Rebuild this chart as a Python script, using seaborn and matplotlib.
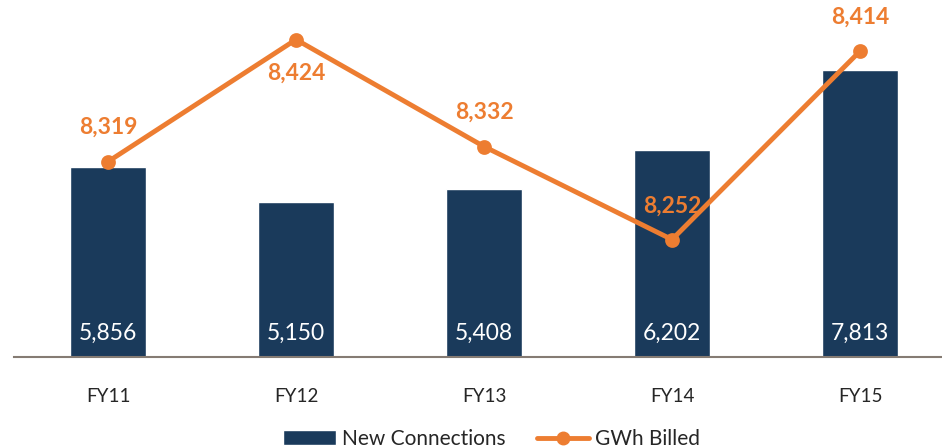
import matplotlib
matplotlib.use("Agg")
import matplotlib.pyplot as plt
import seaborn as sns
import pandas as pd
from matplotlib.patches import Patch
from matplotlib.lines import Line2D

# Data
years = ["FY11", "FY12", "FY13", "FY14", "FY15"]
new_connections = [5856, 5150, 5408, 6202, 7813]
gwh_billed = [8319, 8424, 8332, 8252, 8414]

navy = "#1a3a5b"
orange = "#ed7d31"

sns.set_style("white")
plt.rcParams["font.family"] = ["Lato", "DejaVu Sans"]

df = pd.DataFrame({"year": years, "conn": new_connections, "gwh": gwh_billed})

fig = plt.figure(figsize=(9.42, 4.48), dpi=100)
ax = fig.add_axes([14 / 942, 91 / 448, 940 / 942, 357 / 448])

sns.barplot(data=df, x="year", y="conn", color=navy, width=0.404, saturation=1, ax=ax)
ax.set_ylim(2023, 9225)
ax.set_xlim(-0.5, 4.5)

for i, v in enumerate(new_connections):
    ax.text(i, 2023 + 24 / 0.04957, f"{v:,}", ha="center", va="center",
            color="white", fontsize=16.5)

ax2 = ax.twinx()
sns.pointplot(data=df, x="year", y="gwh", color=orange, markers="o",
              markersize=8, linewidth=3.5, ax=ax2)
ax2.set_ylim(8151, 8458)
ax2.set_xlim(-0.5, 4.5)

# label offsets in px (positive = above the point)
offsets = [34, -34, 34, 33, 34]
for i, (v, off) in enumerate(zip(gwh_billed, offsets)):
    ax2.annotate(f"{v:,}", (i, v), xytext=(0, off * 0.72), textcoords="offset points",
                 ha="center", va="center", color=orange, fontsize=16.5, fontweight="bold")

for a in (ax, ax2):
    for s in ("top", "right", "left"):
        a.spines[s].set_visible(False)
    a.set_ylabel("")
    a.set_xlabel("")
    a.set_yticks([])
ax2.spines["bottom"].set_visible(False)
ax.spines["bottom"].set_color("#857b73")
ax.spines["bottom"].set_linewidth(1.5)
ax.tick_params(axis="x", length=0, pad=22, labelsize=13.5)

handles = [Patch(facecolor=navy, label="New Connections"),
           Line2D([0], [0], color=orange, lw=3.5, marker="o", markersize=9,
                  label="GWh Billed")]
fig.legend(handles=handles, loc="center", bbox_to_anchor=(0.522, 0.02), ncol=2,
           frameon=False, fontsize=15, handlelength=2.5, handletextpad=0.3,
           columnspacing=1.5)

fig.savefig("out.png", dpi=100)
